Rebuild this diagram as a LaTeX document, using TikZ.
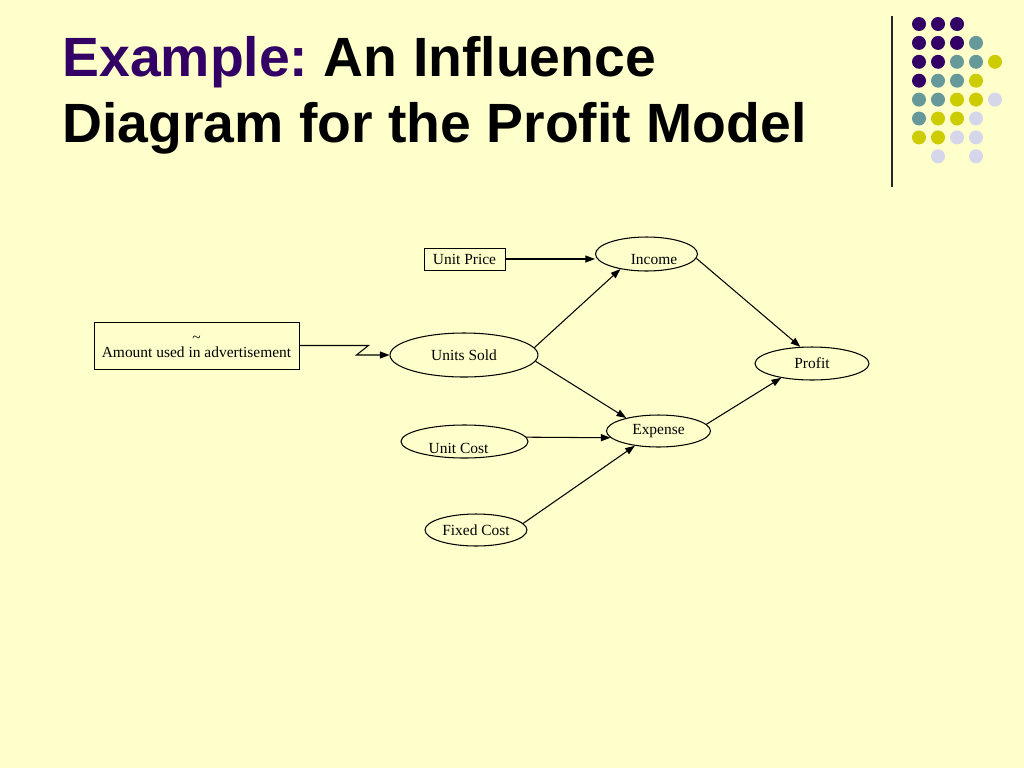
\documentclass[tikz,border=0pt]{standalone}
\usepackage{fontspec}
\setmainfont{Liberation Serif}
\setsansfont{Liberation Sans}
\usetikzlibrary{arrows.meta,positioning,calc,shapes.geometric}
\definecolor{SlideFondo}{HTML}{FFFFCC}
\definecolor{SlideMorado}{HTML}{330066}
\definecolor{SlideVerde}{HTML}{669999}
\definecolor{SlideOliva}{HTML}{CCCC00}
\definecolor{SlideLila}{HTML}{D6D6EB}
\tikzset{
  caja/.style={draw,line width=0.5pt,rectangle,inner sep=0pt,font=\fontsize{8.8}{10}\selectfont},
  globo/.style={draw,line width=0.6pt,ellipse,inner sep=0pt,font=\fontsize{8.8}{10}\selectfont},
  flecha/.style={-{Triangle[length=5.5pt,width=4pt]},line width=0.6pt},
  titulo/.style={anchor=base west,inner sep=0pt,font=\sffamily\bfseries\fontsize{31.5}{37}\selectfont},
}

\begin{document}
\begin{tikzpicture}[x=0.02cm,y=-0.02cm]
  \fill[SlideFondo] (0,0) rectangle (1024,768);
  \useasboundingbox (0,0) rectangle (1024,768);
  % title
  \node[titulo] (titulo1) at (62,76) {\textcolor{SlideMorado}{Example:}\hspace{-0.1cm} An Influence};
  \node[titulo] (titulo2) at (62,142) {Diagram for the Profit Model};
  % corner decoration
  \draw[line width=1pt,black!85] (892,16) -- (892,187);
  \foreach \row [count=\y] in {{1,1,1,0,0},{1,1,1,2,0},{1,1,2,2,3},{1,2,2,3,0},{2,2,3,3,4},{2,3,3,4,0},{3,3,4,4,0},{0,4,0,4,0}}{
    \foreach \c [count=\x] in \row {
      \ifnum\c>0
        \ifcase\c\or\def\dc{SlideMorado}\or\def\dc{SlideVerde}\or\def\dc{SlideOliva}\or\def\dc{SlideLila}\fi
        \fill[\dc] (900+19*\x,5.1+18.9*\y) circle[radius=0.14cm];
      \fi
    }
  }
  % nodes
  \node[caja,minimum width=1.62cm,minimum height=0.44cm] (precio) at (464.5,259) {Unit Price};
  \node[caja,minimum width=4.1cm,minimum height=0.94cm,align=center] (anuncio) at (196.5,345.5) {\raisebox{-0.06cm}[\height][\depth]{\textasciitilde}\\Amount used in advertisement};
  \node[globo,minimum width=2.04cm,minimum height=0.68cm] (ingreso) at (646.5,254) {\hspace{0.3cm}\raisebox{-0.12cm}[\height][\depth]{Income}};
  \node[globo,minimum width=2.96cm,minimum height=0.88cm] (unidades) at (464,355) {Units Sold};
  \node[globo,minimum width=2.28cm,minimum height=0.66cm] (ganancia) at (812,363.5) {Profit};
  \node[globo,minimum width=2.08cm,minimum height=0.64cm] (gasto) at (658.5,431) {Expense};
  \node[globo,minimum width=2.54cm,minimum height=0.66cm] (costou) at (464.5,441.5) {\raisebox{-0.13cm}[\height][\depth]{Unit Cost}\kern0.24cm};
  \node[globo,minimum width=2.04cm,minimum height=0.64cm] (costof) at (476,530) {Fixed Cost};
  % connectors
  \draw[flecha] (anuncio.east) -- ++(69,0) -- ($(unidades.west)+(-33,0)$) -- (unidades.west);
  \draw[flecha] (precio.east) -- (ingreso.west |- precio.east);
  \draw[flecha] (unidades.6) -- (ingreso.210);
  \draw[flecha] (unidades.-5) -- (gasto.158);
  \draw[flecha] (costou.4) -- (gasto.188);
  \draw[flecha] (costof.8) -- (gasto.212);
  \draw[flecha] (ingreso.-5) -- (ganancia.125);
  \draw[flecha] (gasto.8) -- (ganancia.205);
\end{tikzpicture}
\end{document}
